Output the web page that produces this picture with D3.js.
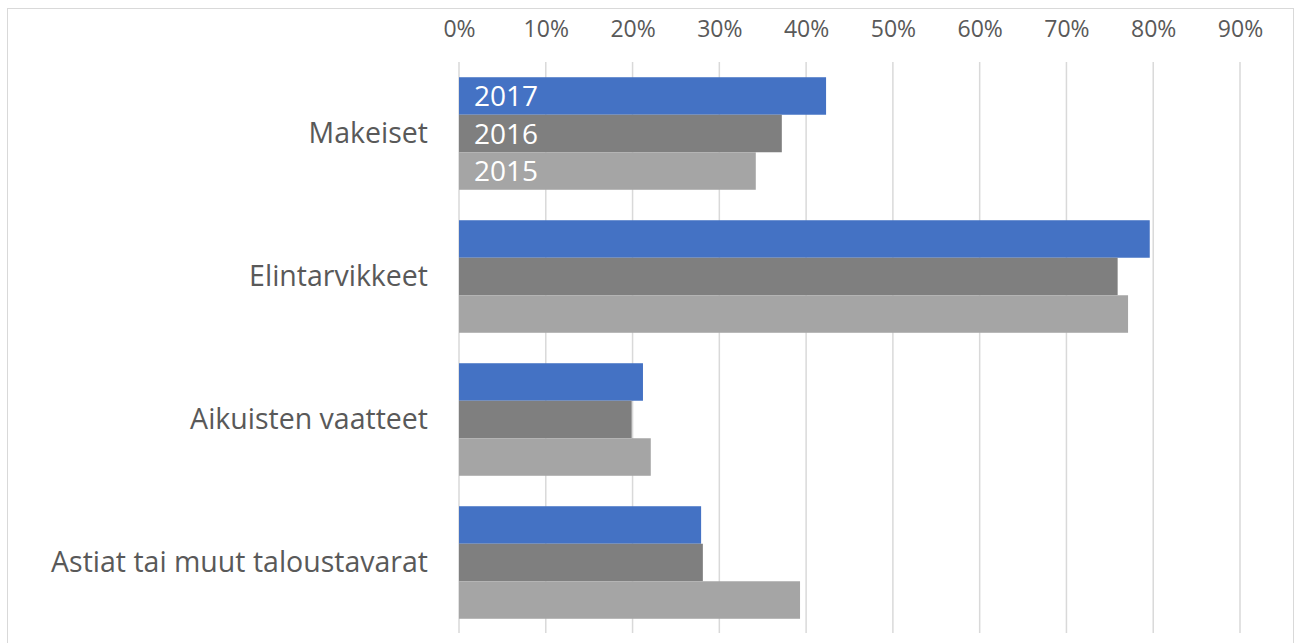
<!DOCTYPE html>
<html>
<head>
<meta charset="utf-8">
<script src="https://cdn.jsdelivr.net/npm/d3@7"></script>
<style>
  body { margin: 0; background: #fff; }
  text { font-family: "Open Sans", sans-serif; }
</style>
</head>
<body>
<div id="chart"></div>
<script>
// categories and series
var categories = ["Makeiset", "Elintarvikkeet", "Aikuisten vaatteet", "Astiat tai muut taloustavarat"];
var years = ["2017", "2016", "2015"];
var values2017 = [0.423, 0.796, 0.212, 0.279];
var values2016 = [0.372, 0.759, 0.199, 0.281];
var values2015 = [0.342, 0.771, 0.221, 0.393];
var tickValues = [0, 0.1, 0.2, 0.3, 0.4, 0.5, 0.6, 0.7, 0.8, 0.9];
var colors = ["#4472C4", "#7F7F7F", "#A5A5A5"];

var series = [values2017, values2016, values2015];
var W = 1301, H = 643;

var svg = d3.select("#chart")
  .append("svg")
    .attr("width", W)
    .attr("height", H);

// chart border
svg.append("rect")
  .attr("x", 7.5).attr("y", 8.5)
  .attr("width", 1286).attr("height", 660)
  .attr("fill", "none")
  .attr("stroke", "#d9d9d9")
  .attr("stroke-width", 1);

var x = d3.scaleLinear()
  .domain([0, 0.9])
  .range([459, 1240]);

var y = d3.scaleBand()
  .domain(categories)
  .range([62, 634])
  .paddingInner(0.213)
  .paddingOuter(0.1065);

var ySub = d3.scaleBand()
  .domain(years)
  .range([0, y.bandwidth()]);

// gridlines
svg.append("g")
  .selectAll("line")
  .data(tickValues)
  .enter()
  .append("line")
    .attr("x1", function(d) { return x(d); })
    .attr("x2", function(d) { return x(d); })
    .attr("y1", 62)
    .attr("y2", 633)
    .attr("stroke", "#d9d9d9")
    .attr("stroke-width", 1.5);

// top axis labels
var xAxis = svg.append("g")
  .attr("transform", "translate(0,43)")
  .call(d3.axisTop(x).tickValues(tickValues).tickFormat(d3.format(".0%")).tickSize(0).tickPadding(0));
xAxis.select(".domain").remove();
xAxis.selectAll("text")
  .attr("font-family", "Open Sans, sans-serif")
  .attr("font-size", 23)
  .attr("fill", "#595959")
  .attr("dy", "-0.25em");

// category labels
var yAxis = svg.append("g")
  .attr("transform", "translate(428,0)")
  .call(d3.axisLeft(y).tickSize(0).tickPadding(0));
yAxis.select(".domain").remove();
yAxis.selectAll("text")
  .attr("font-family", "Open Sans, sans-serif")
  .attr("font-size", 28.5)
  .attr("fill", "#595959");

// bars
var groups = svg.append("g")
  .selectAll("g")
  .data(categories)
  .enter()
  .append("g")
    .attr("transform", function(d) { return "translate(0," + y(d) + ")"; });

groups.selectAll("rect")
  .data(function(c, i) { return years.map(function(yr, j) { return {year: yr, value: series[j][i], j: j}; }); })
  .enter()
  .append("rect")
    .attr("x", x(0))
    .attr("y", function(d) { return ySub(d.year); })
    .attr("width", function(d) { return x(d.value) - x(0); })
    .attr("height", ySub.bandwidth())
    .attr("fill", function(d) { return colors[d.j]; });

// year labels inside the first group's bars
svg.append("g")
  .selectAll("text")
  .data(years)
  .enter()
  .append("text")
    .attr("x", x(0) + 15)
    .attr("y", function(d) { return y(categories[0]) + ySub(d) + ySub.bandwidth() / 2; })
    .attr("dy", "0.36em")
    .attr("font-size", 28)
    .attr("fill", "#ffffff")
    .text(function(d) { return d; });
</script>
</body>
</html>
